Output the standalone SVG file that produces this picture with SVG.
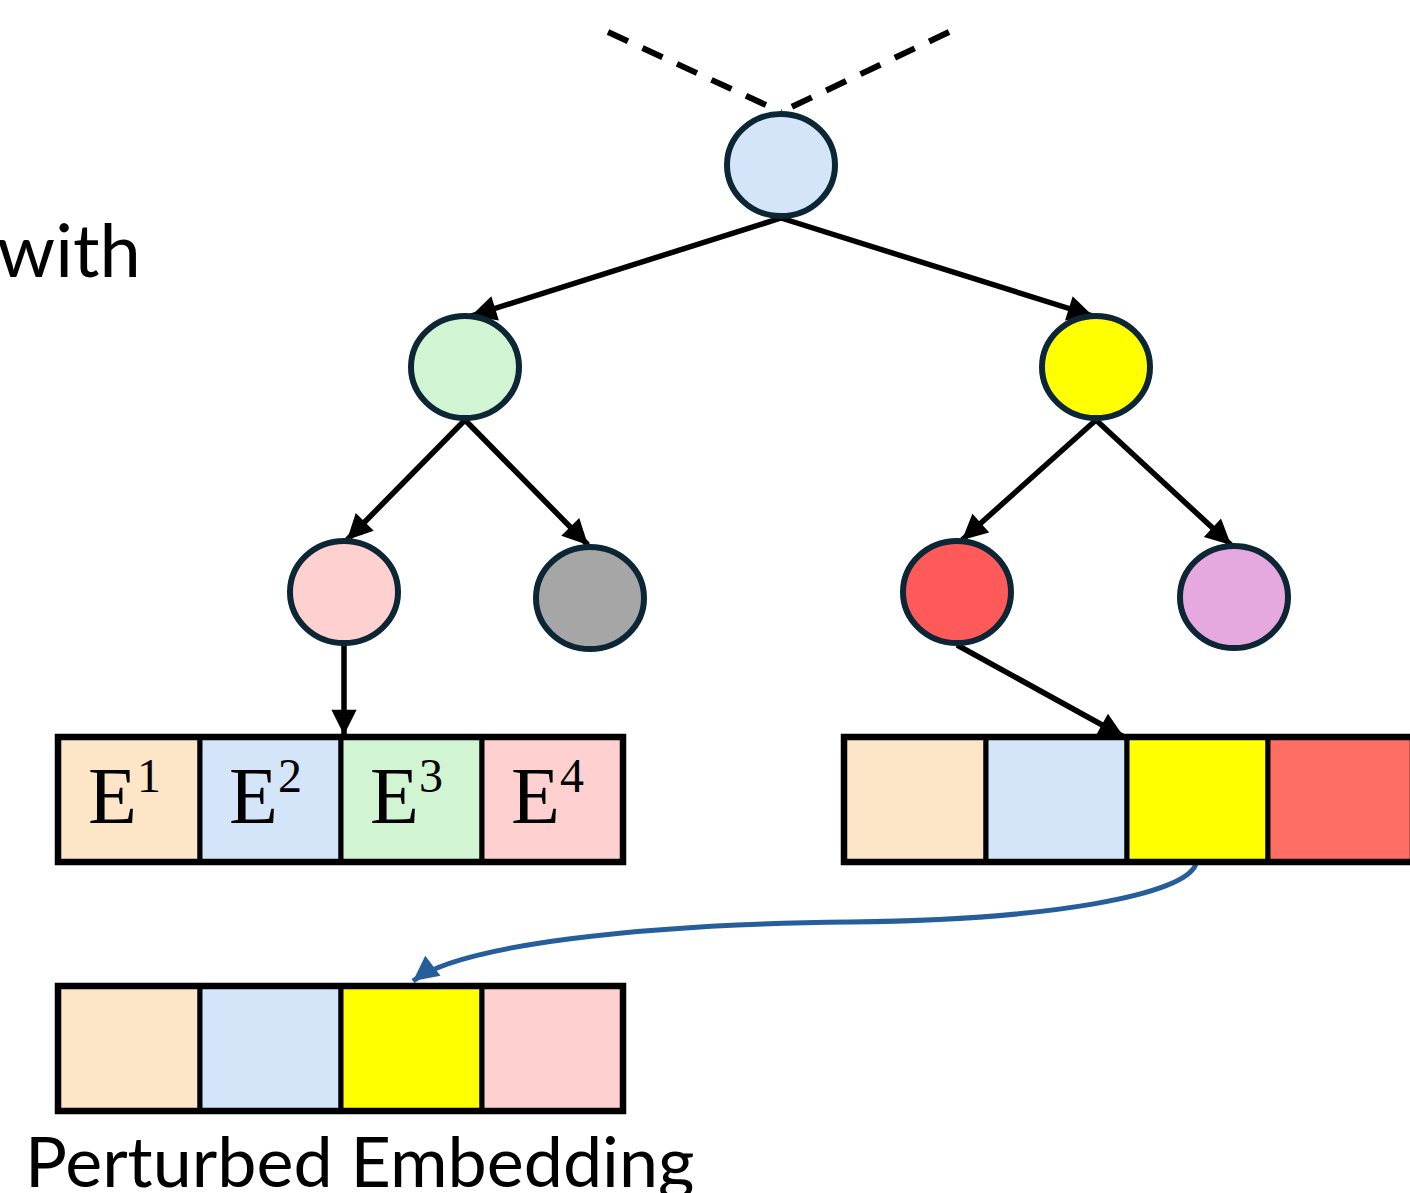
<svg xmlns="http://www.w3.org/2000/svg" width="1410" height="1193" viewBox="0 0 1410 1193">
  <defs>
    <marker id="arrowBlack" viewBox="0 0 10 10" refX="10" refY="5" markerWidth="5" markerHeight="4.6" orient="auto" markerUnits="strokeWidth">
      <path d="M0,0 L10,5 L0,10 z" fill="#000"/>
    </marker>
    <marker id="arrowBlue" viewBox="0 0 10 10" refX="10" refY="5" markerWidth="5.5" markerHeight="5" orient="auto" markerUnits="strokeWidth">
      <path d="M0,0 L10,5 L0,10 z" fill="#255e9b"/>
    </marker>
    <style>
      .node { stroke: #0c2636; stroke-width: 6; }
      .edge { stroke: #000; stroke-width: 5.5; fill: none; marker-end: url(#arrowBlack); }
      .dash { stroke: #000; stroke-width: 6; fill: none; stroke-dasharray: 22 16; }
      .cell { stroke: #000; stroke-width: 5; }
      .frame { fill: none; stroke: #000; stroke-width: 6.5; }
      .label { font-family: "Lato", "Open Sans", sans-serif; fill: #000; }
      .math { font-family: "Liberation Serif", "DejaVu Serif", serif; fill: #000; }
    </style>
  </defs>

  <rect width="1410" height="1193" fill="#fff"/>

  <text class="label" x="-3" y="277" font-size="74">with</text>

  <!-- connectors -->
  <g id="connectors">
    <path class="dash" d="M608,32 L781,112"/>
    <path class="dash" d="M949,32 L781,112"/>
    <path class="edge" d="M781,218 L471,316"/>
    <path class="edge" d="M781,218 L1093,316"/>
    <path class="edge" d="M465,420 L347,540"/>
    <path class="edge" d="M465,420 L588,545"/>
    <path class="edge" d="M1096,420 L962,540"/>
    <path class="edge" d="M1096,420 L1231,545"/>
    <path class="edge" d="M344,645 L344,735"/>
    <path class="edge" d="M957,645 L1124,737"/>
    <path d="M1196,864 C1185,895 1050,920 850,922 C640,924 460,945 413,981" fill="none" stroke="#255e9b" stroke-width="5" marker-end="url(#arrowBlue)"/>
  </g>

  <!-- tree nodes -->
  <g id="node-root"><ellipse class="node" cx="781" cy="165" rx="54" ry="51" fill="#d4e5fa"/></g>
  <g id="node-green"><ellipse class="node" cx="465" cy="367" rx="54" ry="51" fill="#d1f4d3"/></g>
  <g id="node-yellow"><ellipse class="node" cx="1096" cy="367" rx="54" ry="51" fill="#ffff00"/></g>
  <g id="node-pink"><ellipse class="node" cx="344" cy="592" rx="54" ry="51" fill="#ffd0d0"/></g>
  <g id="node-gray"><ellipse class="node" cx="590" cy="598" rx="54" ry="51" fill="#a6a6a6"/></g>
  <g id="node-red"><ellipse class="node" cx="957" cy="592" rx="54" ry="51" fill="#ff5a5a"/></g>
  <g id="node-purple"><ellipse class="node" cx="1234" cy="597" rx="54" ry="51" fill="#e5a9e0"/></g>

  <!-- embedding E1..E4 -->
  <g id="embedding-original">
    <rect class="cell" x="58" y="737" width="142" height="125" fill="#fde5c7"/>
    <rect class="cell" x="200" y="737" width="141" height="125" fill="#d4e5fa"/>
    <rect class="cell" x="341" y="737" width="141" height="125" fill="#d1f4d3"/>
    <rect class="cell" x="482" y="737" width="141" height="125" fill="#ffd0d0"/>
    <rect class="frame" x="58" y="737" width="565" height="125"/>
    <text class="math" x="88" y="823" font-size="80">E<tspan font-size="48" dy="-31">1</tspan></text>
    <text class="math" x="229" y="823" font-size="80">E<tspan font-size="48" dy="-31">2</tspan></text>
    <text class="math" x="370" y="823" font-size="80">E<tspan font-size="48" dy="-31">3</tspan></text>
    <text class="math" x="511" y="823" font-size="80">E<tspan font-size="48" dy="-31">4</tspan></text>
  </g>

  <!-- embedding on the right -->
  <g id="embedding-source">
    <rect class="cell" x="844" y="737" width="142" height="125" fill="#fde5c7"/>
    <rect class="cell" x="986" y="737" width="141" height="125" fill="#d4e5fa"/>
    <rect class="cell" x="1127" y="737" width="141" height="125" fill="#ffff00"/>
    <rect class="cell" x="1268" y="737" width="145" height="125" fill="#ff6e64"/>
    <rect class="frame" x="844" y="737" width="569" height="125"/>
  </g>

  <!-- perturbed embedding -->
  <g id="embedding-perturbed">
    <rect class="cell" x="58" y="986" width="142" height="125" fill="#fde5c7"/>
    <rect class="cell" x="200" y="986" width="141" height="125" fill="#d4e5fa"/>
    <rect class="cell" x="341" y="986" width="141" height="125" fill="#ffff00"/>
    <rect class="cell" x="482" y="986" width="141" height="125" fill="#ffd0d0"/>
    <rect class="frame" x="58" y="986" width="565" height="125"/>
    <text class="label" x="25" y="1187" font-size="70">Perturbed Embedding</text>
  </g>
</svg>
